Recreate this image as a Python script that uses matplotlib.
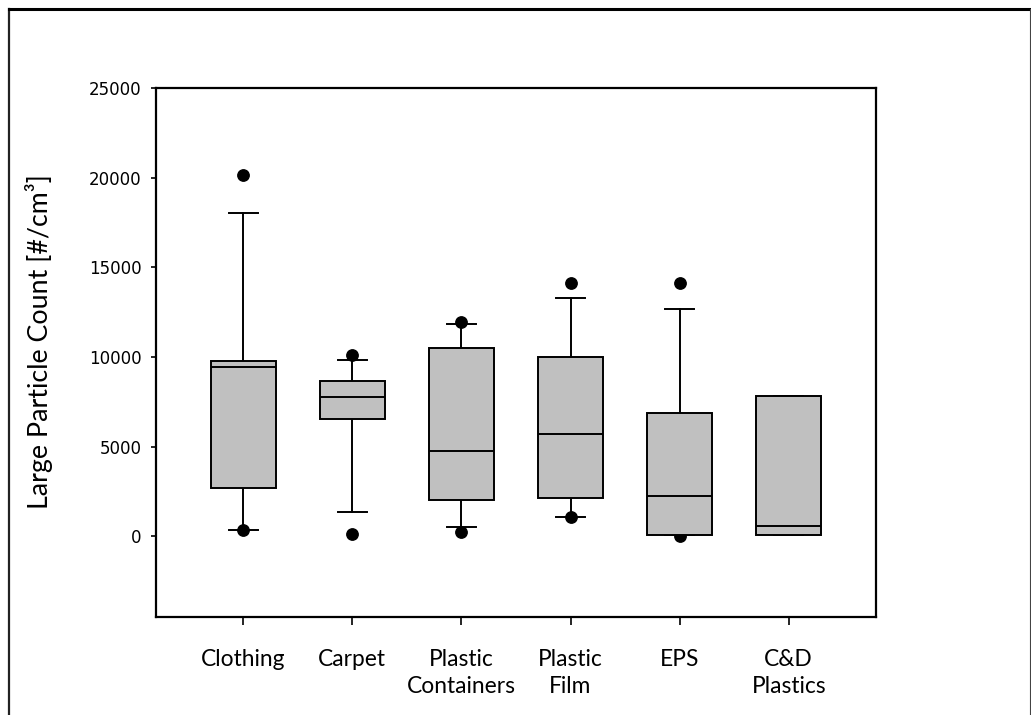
import matplotlib
matplotlib.use("Agg")
import matplotlib.pyplot as plt
from matplotlib.lines import Line2D

categories = ["Clothing", "Carpet", "Plastic\nContainers", "Plastic\nFilm", "EPS", "C&D\nPlastics"]
q1 = [2700, 6550, 2050, 2150, 100, 70]
med = [9430, 7750, 4750, 5700, 2250, 550]
q3 = [9760, 8680, 10520, 10000, 6880, 7830]
whislo = [370, 1330, 540, 1050, 60, 70]
whishi = [18030, 9820, 11850, 13270, 12670, 7830]
fliers = [[20130, 370], [10110, 130], [11930, 250], [14100, 1050], [14100, 20], []]
yticks = [0, 5000, 10000, 15000, 20000, 25000]

fig = plt.figure(figsize=(10.31, 7.15), dpi=100)
ax = fig.add_axes([156/1031, 1-617/715, 720/1031, 529/715])

stats = []
for i in range(len(categories)):
    stats.append(dict(med=med[i], q1=q1[i], q3=q3[i], whislo=whislo[i],
                      whishi=whishi[i], fliers=fliers[i], label=categories[i]))

lw = 1.4
ax.bxp(stats, positions=range(1, len(categories)+1), widths=0.6, capwidths=0.27,
       patch_artist=True, showfliers=True,
       boxprops=dict(facecolor="#c0c0c0", edgecolor="black", linewidth=lw, zorder=3),
       medianprops=dict(color="black", linewidth=lw, zorder=4),
       whiskerprops=dict(color="black", linewidth=lw),
       capprops=dict(color="black", linewidth=lw),
       flierprops=dict(marker="o", markerfacecolor="black", markeredgecolor="black",
                       markersize=8.2, linestyle="none", zorder=1.5))

ax.set_xlim(0.2, 6.8)
ax.set_ylim(-4500, 25000)
ax.set_yticks(yticks)
ax.set_yticklabels([str(v) for v in yticks], fontfamily="DejaVu Sans", fontsize=12)
ax.set_xticks(range(1, len(categories)+1))
ax.set_xticklabels(categories, fontfamily="Lato", fontsize=16.4, linespacing=1.4)
ax.tick_params(axis="y", direction="out", length=3.6, width=1.2, pad=7)
ax.tick_params(axis="x", direction="out", length=5.8, width=1.2, pad=17)
for s in ax.spines.values():
    s.set_linewidth(1.6)

ax.set_ylabel("Large Particle Count [#/cm³]", fontfamily="Lato", fontsize=19.3)
ax.yaxis.set_label_coords((38.7 - 156) / 720, 0.52)
ax.yaxis.label.set_verticalalignment("center")

# figure border
fig.add_artist(Line2D([9/1031, 9/1031], [0, 1-9/715], transform=fig.transFigure, color="#222222", lw=1.6))
fig.add_artist(Line2D([9/1031, 1], [1-9/715, 1-9/715], transform=fig.transFigure, color="black", lw=2.2))
fig.add_artist(Line2D([1030/1031, 1030/1031], [0, 1-9/715], transform=fig.transFigure, color="#444444", lw=0.8))

fig.savefig("out.png", dpi=100)
